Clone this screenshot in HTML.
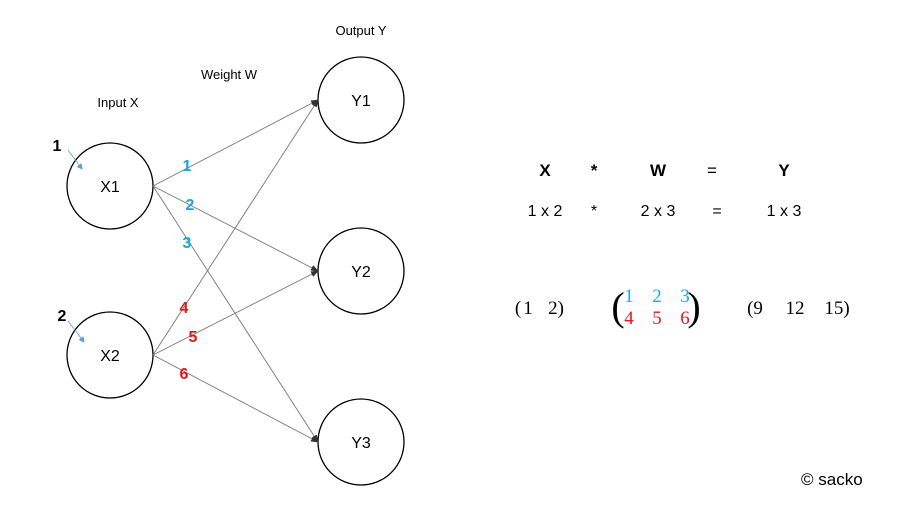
<!DOCTYPE html><html><head><style>body{margin:0;background:#fff}</style></head><body>
<svg width="900" height="514" xmlns="http://www.w3.org/2000/svg" font-family="Liberation Sans, sans-serif">
<defs><marker id="a" markerWidth="8" markerHeight="8" refX="7" refY="4" orient="auto" markerUnits="userSpaceOnUse"><path d="M0,1 L8,4 L0,7 z" fill="#333"/></marker>
<marker id="b" markerWidth="6" markerHeight="6" refX="5" refY="3" orient="auto" markerUnits="userSpaceOnUse"><path d="M0,0 L6,3 L0,6 z" fill="#5b9bd5"/></marker></defs>
<g fill="none" stroke="#000" stroke-width="1.3">
<circle cx="110" cy="186" r="43"/><circle cx="110" cy="355" r="43"/>
<circle cx="361" cy="100" r="43"/><circle cx="361" cy="271" r="43"/><circle cx="361" cy="442" r="43"/></g>
<g stroke="#777" stroke-width="0.9" marker-end="url(#a)">
<line x1="153" y1="186" x2="318" y2="100"/><line x1="153" y1="186" x2="318" y2="271"/><line x1="153" y1="186" x2="318" y2="442"/>
<line x1="153" y1="355" x2="318" y2="100"/><line x1="153" y1="355" x2="318" y2="271"/><line x1="153" y1="355" x2="318" y2="442"/></g>
<g stroke="#5b9bd5" stroke-width="0.8" marker-end="url(#b)"><line x1="68" y1="150" x2="82" y2="169"/><line x1="68" y1="321" x2="84" y2="342"/></g>
<g font-size="14" text-anchor="middle" fill="#000">
<text x="110" y="192" font-size="16">X1</text><text x="110" y="361" font-size="16">X2</text>
<text x="361" y="106" font-size="16">Y1</text><text x="361" y="277" font-size="16">Y2</text><text x="361" y="448" font-size="16">Y3</text>
<text x="118" y="107" font-size="13">Input X</text><text x="229" y="79" font-size="13">Weight W</text><text x="361" y="35" font-size="13">Output Y</text></g>
<g font-size="16" font-weight="bold" text-anchor="middle">
<text x="57" y="151">1</text><text x="62" y="321">2</text>
<g fill="#1aa7e0"><text x="187" y="171">1</text><text x="190" y="210">2</text><text x="187" y="248">3</text></g>
<g fill="#e8141c"><text x="184" y="313">4</text><text x="193" y="342">5</text><text x="184" y="379">6</text></g>
<g fill="#000" font-size="17"><text x="545" y="176">X</text><text x="594" y="176">*</text><text x="658" y="176">W</text><text x="712" y="176" font-weight="normal">=</text><text x="784" y="176">Y</text></g></g>
<g font-size="16" text-anchor="middle"><text x="545" y="216">1 x 2</text><text x="594" y="216">*</text><text x="658" y="216">2 x 3</text><text x="717" y="216">=</text><text x="784" y="216">1 x 3</text></g>
<g font-family="Liberation Serif, serif" font-size="19" text-anchor="middle">
<text x="518" y="314">(</text><text x="528" y="314">1</text><text x="556" y="314">2)</text>
<text x="755" y="314">(9</text><text x="795" y="314">12</text><text x="837" y="314">15)</text>
<text x="618" y="320" font-size="40">(</text><text x="694" y="320" font-size="40">)</text>
<g fill="#1aa7e0"><text x="629" y="302">1</text><text x="657" y="302">2</text><text x="685" y="302">3</text></g>
<g fill="#e8141c"><text x="629" y="324">4</text><text x="657" y="324">5</text><text x="685" y="324">6</text></g></g>
<text x="801" y="485" font-size="17">© sacko</text>
</svg></body></html>
